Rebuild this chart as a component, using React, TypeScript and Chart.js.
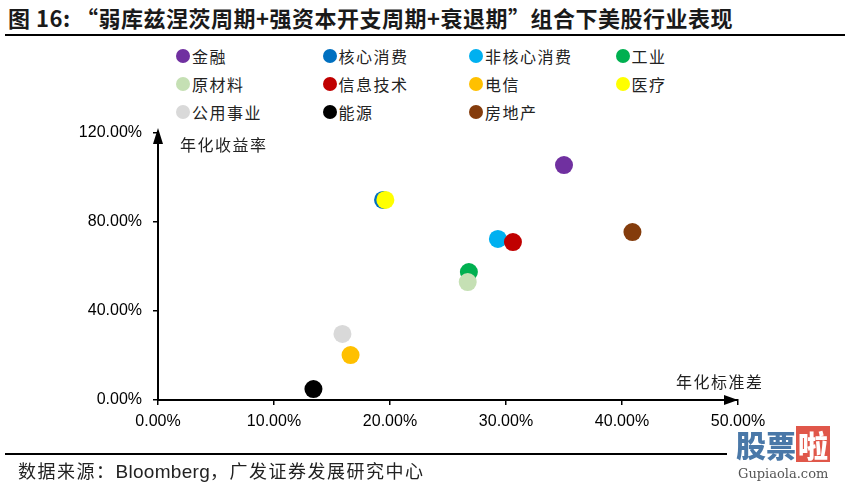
import React, { useEffect, useRef } from "react";
import { Chart, registerables } from "chart.js";

Chart.register(...registerables);

const sectors = ["金融", "核心消费", "非核心消费", "工业", "原材料", "信息技术", "电信", "医疗", "公用事业", "能源", "房地产"];
const sectorColors = ["#7030A0", "#0070C0", "#00B0F0", "#00B050", "#C5E0B4", "#C00000", "#FFC000", "#FFFF00", "#D9D9D9", "#000000", "#843C0C"];
const annualStdDev = [35.0, 19.4, 29.3, 26.8, 26.7, 30.6, 16.6, 19.6, 15.9, 13.4, 40.9];
const annualReturn = [105.6, 89.9, 72.4, 57.5, 53.0, 71.0, 20.2, 89.9, 29.7, 4.9, 75.5];
const xTicks = [0, 10, 20, 30, 40, 50];
const yTicks = [0, 40, 80, 120];

const titleText = "图 16: “弱库兹涅茨周期+强资本开支周期+衰退期”组合下美股行业表现";
const yAxisTitle = "年化收益率";
const xAxisTitle = "年化标准差";
const sourcePrefix = "数据来源：";
const sourceLatin = "Bloomberg";
const sourceSuffix = "，广发证券发展研究中心";

const CJK = '"Noto Sans CJK SC", "Liberation Sans", sans-serif';
const LAT = '"Liberation Sans", Arial, sans-serif';

const arrowPlugin = {
  id: "axisArrows",
  afterDraw(chart: any) {
    const { ctx, chartArea } = chart;
    const { left, top, right, bottom } = chartArea;
    ctx.save();
    ctx.fillStyle = "#000";
    ctx.beginPath();
    ctx.moveTo(left, top - 5);
    ctx.lineTo(left - 5, top + 11);
    ctx.lineTo(left + 5, top + 11);
    ctx.closePath();
    ctx.fill();
    ctx.beginPath();
    ctx.moveTo(right, bottom);
    ctx.lineTo(right - 14, bottom - 5);
    ctx.lineTo(right - 14, bottom + 5);
    ctx.closePath();
    ctx.fill();
    ctx.restore();
  },
};

export default function App() {
  const canvasRef = useRef<HTMLCanvasElement | null>(null);

  useEffect(() => {
    if (!canvasRef.current) return;
    const chart = new Chart(canvasRef.current, {
      type: "scatter",
      data: {
        datasets: sectors.map((name, i) => ({
          label: name,
          data: [{ x: annualStdDev[i], y: annualReturn[i] }],
          backgroundColor: sectorColors[i],
          borderWidth: 0,
          pointRadius: 9,
          pointHoverRadius: 9,
          order: sectors.length - i,
        })),
      },
      options: {
        animation: false,
        responsive: false,
        devicePixelRatio: 1,
        layout: { padding: { left: 0, top: 133, right: 113, bottom: 0 } },
        plugins: { legend: { display: false }, tooltip: { enabled: false } },
        scales: {
          x: {
            type: "linear",
            min: 0,
            max: 50,
            afterFit: (s: any) => { s.height = 87; },
            afterBuildTicks: (s: any) => { s.ticks = xTicks.map((v) => ({ value: v })); },
            border: { display: true, color: "#000", width: 2 },
            grid: { drawOnChartArea: false, drawTicks: true, tickLength: 5, color: "#000", lineWidth: 1.5 },
            ticks: {
              padding: 7,
              color: "#000",
              font: { family: LAT, size: 16 },
              maxRotation: 0,
              callback: (v: any) => Number(v).toFixed(2) + "%",
            },
          },
          y: {
            type: "linear",
            min: 0,
            max: 120,
            afterFit: (s: any) => { s.width = 158; },
            afterBuildTicks: (s: any) => { s.ticks = yTicks.map((v) => ({ value: v })); },
            border: { display: true, color: "#000", width: 2 },
            grid: { drawOnChartArea: false, drawTicks: true, tickLength: 5, color: "#000", lineWidth: 1.5 },
            ticks: {
              padding: 11,
              color: "#000",
              font: { family: LAT, size: 16 },
              callback: (v: any) => Number(v).toFixed(2) + "%",
            },
          },
        },
      },
      plugins: [arrowPlugin],
    } as any);
    return () => chart.destroy();
  }, []);

  return (
    <div style={{ position: "absolute", left: 0, top: 0, width: 851, height: 487, background: "#fff", overflow: "hidden" }}>
      <div style={{ position: "absolute", left: 8, top: 3, fontFamily: CJK, fontWeight: 700, fontSize: 22, color: "#1a1a1a", whiteSpace: "nowrap", letterSpacing: 0.5, lineHeight: "28px" }}>
        {titleText}
      </div>
      <div style={{ position: "absolute", left: 5, top: 34, width: 840, height: 2, background: "#000" }} />

      {sectors.map((name, i) => (
        <div
          key={name}
          style={{
            position: "absolute",
            left: 176 + (i % 4) * 146.5,
            top: 46 + Math.floor(i / 4) * 28,
            height: 20,
            display: "flex",
            alignItems: "center",
            fontFamily: CJK,
            fontSize: 16,
            color: "#222",
            letterSpacing: 1.5,
            whiteSpace: "nowrap",
          }}
        >
          <span style={{ display: "inline-block", width: 14, height: 14, borderRadius: 7, background: sectorColors[i], marginRight: 2 }} />
          {name}
        </div>
      ))}

      <canvas ref={canvasRef} width={851} height={487} style={{ position: "absolute", left: 0, top: 0, width: 851, height: 487 }} />

      <div style={{ position: "absolute", left: 180, top: 132, fontFamily: CJK, fontSize: 16, color: "#222", letterSpacing: 1.5, whiteSpace: "nowrap" }}>
        {yAxisTitle}
      </div>
      <div style={{ position: "absolute", left: 676, top: 369, fontFamily: CJK, fontSize: 16, color: "#222", letterSpacing: 1.5, whiteSpace: "nowrap" }}>
        {xAxisTitle}
      </div>

      <div style={{ position: "absolute", left: 5, top: 453, width: 722, height: 2, background: "#000" }} />
      <div style={{ position: "absolute", left: 18, top: 458, fontFamily: CJK, fontSize: 18, color: "#222", whiteSpace: "nowrap", letterSpacing: 1.5, lineHeight: "24px" }}>
        {sourcePrefix}
        <span style={{ fontFamily: LAT, fontSize: 19, letterSpacing: 0.3 }}>{sourceLatin}</span>
        {sourceSuffix}
      </div>

      <div style={{ position: "absolute", left: 736, top: 426, fontFamily: CJK, fontWeight: 900, fontSize: 30, color: "#4a78a8", whiteSpace: "nowrap", lineHeight: "36px" }}>
        股票<span style={{ display: "inline-block", background: "#e0574a", color: "#fff", padding: "0 2px" }}>啦</span>
      </div>
      <div style={{ position: "absolute", left: 738, top: 466, fontFamily: '"DejaVu Serif", serif', fontSize: 13, color: "#555", whiteSpace: "nowrap" }}>
        Gupiaola.com
      </div>
    </div>
  );
}
